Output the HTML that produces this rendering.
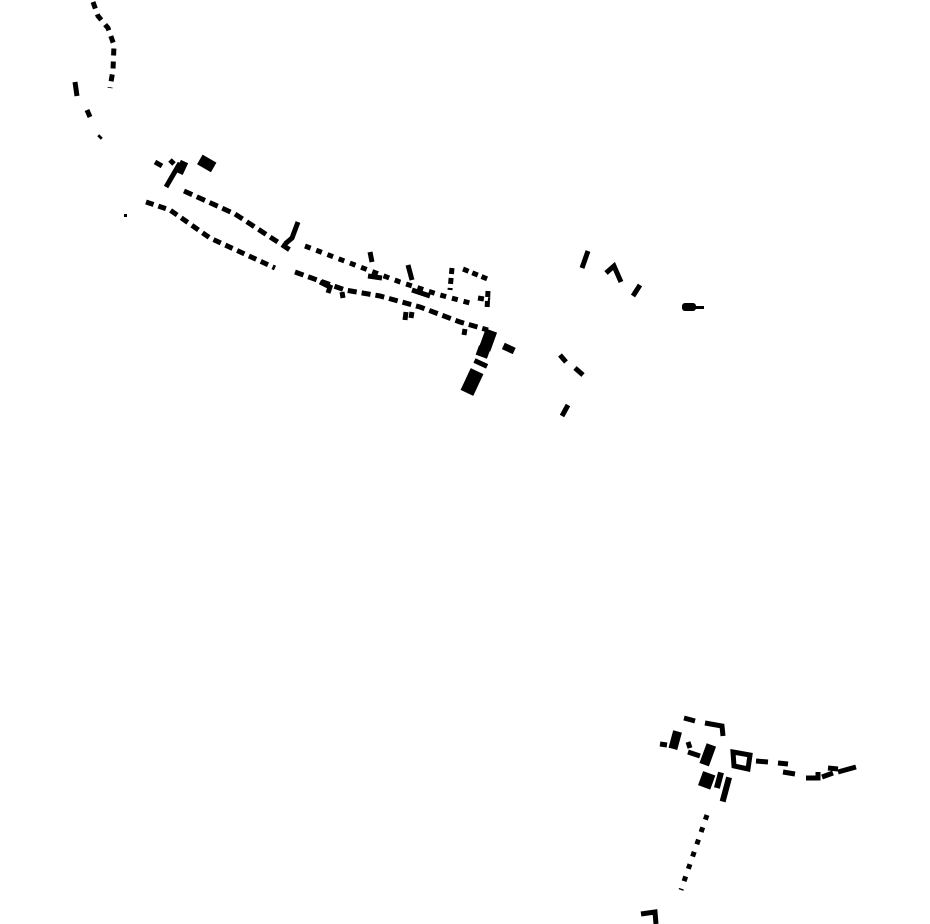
<!DOCTYPE html>
<html><head><style>html,body{margin:0;padding:0;background:#fff}svg{display:block}</style></head>
<body>
<svg width="930" height="924" viewBox="0 0 930 924" xmlns="http://www.w3.org/2000/svg">
<g fill="none" stroke="#000" stroke-width="5">
<path d="M93 2 L98 16 L108 28 L114 45 L113 70 L110 88" stroke-dasharray="7 6"/>
<path d="M75 82 L77 96 M87 110 L90 117 M99 138 L101 136"/>
<path d="M184 191 L235 214 L290 250" stroke-dasharray="9 5"/>
<path d="M305 246 L355 265 L400 282 L440 295 L470 303" stroke-dasharray="6 6"/>
<path d="M368 276 L382 278 M412 290 L430 296" />
<path d="M146 202 L170 210 L210 238 L275 268" stroke-dasharray="8 5"/>
<path d="M295 272 L345 290 L380 296 L420 307 L460 322 L488 330" stroke-dasharray="9 5"/>
<path d="M320 282 L330 287 L328 293 M342 292 L343 298 M406 312 L405 320 M412 312 L411 318 M465 329 L464 335"/>
<path d="M452 268 L450 290 M463 269 L490 280 M478 298 L490 300 M488 291 L487 310" stroke-dasharray="6 4"/>
<path d="M298 222 L292 238 L285 244"/>
<path d="M370 252 L372 262 M408 265 L412 280"/>
<path d="M588 251 L582 268 M606 273 L614 266 L621 282 M640 285 L633 296"/>
<path d="M560 355 L566 362 M575 368 L583 375 M568 405 L562 416"/>
<path d="M180 163 L166 187 M155 162 L162 166 M170 160 L174 164"/>
</g>
<g fill="#000">
<rect x="199" y="158" width="16" height="11" transform="rotate(30 207 163)"/>
<rect x="178" y="161" width="8" height="13" transform="rotate(25 182 167)"/>
<rect x="465" y="370" width="14" height="24" transform="rotate(25 472 382)"/>
<rect x="482" y="330" width="12" height="20" transform="rotate(20 488 340)"/>
<rect x="477" y="347" width="12" height="10" transform="rotate(20 483 352)"/>
<rect x="503" y="345" width="12" height="7" transform="rotate(25 509 348)"/>
<rect x="474" y="361" width="14" height="5" transform="rotate(25 481 363)"/>
<rect x="682" y="303" width="14" height="8" rx="3"/>
<rect x="694" y="306" width="10" height="3"/>
<rect x="124" y="214" width="3" height="3"/>
</g>
<g fill="none" stroke="#000" stroke-width="5">
<path d="M684 718 L695 721 M705 723 L722 726 L723 736"/>
<path d="M660 744 L667 745 M688 752 L700 756 M688 742 L690 748"/>
<path d="M733 752 L750 755 L748 769 L734 766 Z"/>
<path d="M756 761 L768 762 M778 763 L788 764 M783 772 L795 774 M806 778 L818 778 L818 772 M822 777 L833 773 M828 768 L838 769 M838 772 L856 767"/>
<path d="M707 815 L681 890" stroke-dasharray="5 8"/>
<path d="M641 914 L655 912 L656 924"/>
</g>
<g fill="#000">
<rect x="671" y="731" width="9" height="18" transform="rotate(15 675 739)"/>
<rect x="703" y="744" width="10" height="21" transform="rotate(20 707 754)"/>
<rect x="700" y="773" width="13" height="15" transform="rotate(20 707 781)"/>
<rect x="716" y="772" width="6" height="16" transform="rotate(15 718 780)"/>
<rect x="723" y="777" width="6" height="25" transform="rotate(15 726 789)"/>
</g>
</svg>
</body></html>
